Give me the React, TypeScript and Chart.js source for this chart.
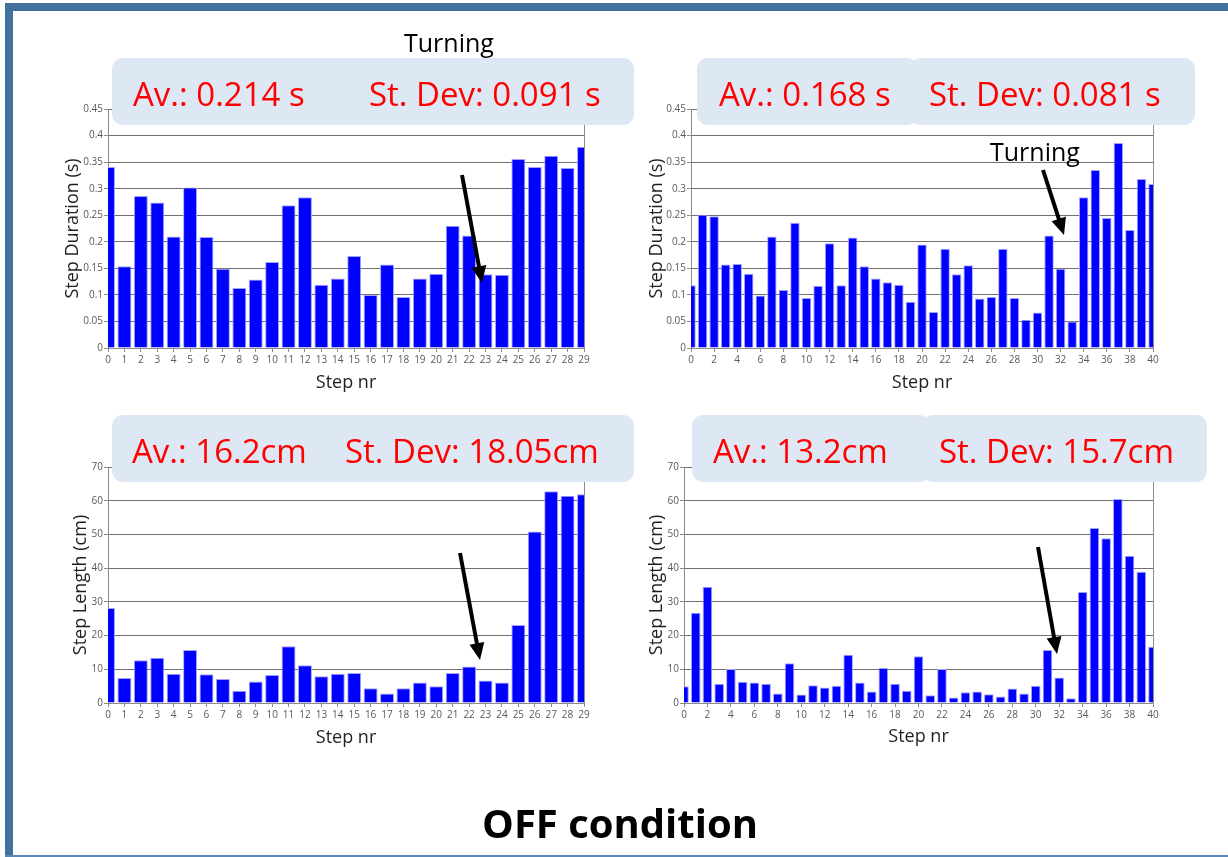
import { useEffect, useRef } from 'react';
import { Chart, registerables } from 'chart.js';

Chart.register(...registerables);
Chart.defaults.font.family = "'Open Sans', sans-serif";

// ---- categories / ticks ----
const stepsA = [0, 1, 2, 3, 4, 5, 6, 7, 8, 9, 10, 11, 12, 13, 14, 15, 16, 17, 18, 19, 20, 21, 22, 23, 24, 25, 26, 27, 28, 29];
const stepsB = [0, 1, 2, 3, 4, 5, 6, 7, 8, 9, 10, 11, 12, 13, 14, 15, 16, 17, 18, 19, 20, 21, 22, 23, 24, 25, 26, 27, 28, 29, 30, 31, 32, 33, 34, 35, 36, 37, 38, 39, 40];
const xTicksA = [0, 1, 2, 3, 4, 5, 6, 7, 8, 9, 10, 11, 12, 13, 14, 15, 16, 17, 18, 19, 20, 21, 22, 23, 24, 25, 26, 27, 28, 29];
const xTicksB = [0, 2, 4, 6, 8, 10, 12, 14, 16, 18, 20, 22, 24, 26, 28, 30, 32, 34, 36, 38, 40];
const durationTicks = [0, 0.05, 0.1, 0.15, 0.2, 0.25, 0.3, 0.35, 0.4, 0.45];
const lengthTicks = [0, 10, 20, 30, 40, 50, 60, 70];

// ---- series ----
const durationA = [0.341, 0.154, 0.286, 0.274, 0.21, 0.302, 0.209, 0.149, 0.113, 0.129, 0.162, 0.269, 0.284, 0.119, 0.131, 0.173, 0.1, 0.157, 0.096, 0.131, 0.14, 0.23, 0.212, 0.139, 0.138, 0.356, 0.341, 0.362, 0.339, 0.379];
const durationB = [0.118, 0.251, 0.248, 0.157, 0.158, 0.14, 0.099, 0.21, 0.109, 0.236, 0.094, 0.117, 0.197, 0.118, 0.208, 0.154, 0.131, 0.124, 0.119, 0.087, 0.195, 0.068, 0.187, 0.139, 0.156, 0.093, 0.096, 0.187, 0.094, 0.053, 0.067, 0.212, 0.149, 0.05, 0.284, 0.335, 0.245, 0.386, 0.222, 0.318, 0.309];
const lengthA = [28.2, 7.4, 12.7, 13.4, 8.7, 15.7, 8.5, 7.1, 3.6, 6.4, 8.3, 16.8, 11.2, 7.9, 8.7, 8.9, 4.4, 2.8, 4.4, 6.1, 5.0, 8.9, 10.8, 6.7, 6.1, 23.1, 50.9, 62.8, 61.5, 61.9];
const lengthB = [5.0, 26.8, 34.5, 5.7, 10.1, 6.3, 6.1, 5.7, 2.8, 11.8, 2.5, 5.3, 4.6, 5.1, 14.3, 6.1, 3.4, 10.4, 5.7, 3.6, 13.9, 2.3, 10.1, 1.6, 3.2, 3.4, 2.6, 1.9, 4.3, 2.8, 5.1, 15.7, 7.6, 1.4, 32.9, 51.9, 48.9, 60.5, 43.7, 38.9, 16.7];

type Spec = {
  steps: number[]; values: number[]; xTicks: number[]; yTicks: number[];
  xMax: number; yMax: number; yTitle: string; barPct: number;
  L: number; T: number; R: number; B: number; yTitleX: number; xTitleY: number;
};

const panels: Spec[] = [
  { steps: stepsA, values: durationA, xTicks: xTicksA, yTicks: durationTicks, xMax: 29, yMax: 0.45, yTitle: 'Step Duration (s)', barPct: 0.85, L: 108, T: 109, R: 584, B: 348, yTitleX: 73, xTitleY: 383 },
  { steps: stepsB, values: durationB, xTicks: xTicksB, yTicks: durationTicks, xMax: 40, yMax: 0.45, yTitle: 'Step Duration (s)', barPct: 0.82, L: 691, T: 109, R: 1153, B: 348, yTitleX: 657, xTitleY: 383 },
  { steps: stepsA, values: lengthA, xTicks: xTicksA, yTicks: lengthTicks, xMax: 29, yMax: 70, yTitle: 'Step Length (cm)', barPct: 0.85, L: 108, T: 467, R: 584, B: 703, yTitleX: 81, xTitleY: 738 },
  { steps: stepsB, values: lengthB, xTicks: xTicksB, yTicks: lengthTicks, xMax: 40, yMax: 70, yTitle: 'Step Length (cm)', barPct: 0.82, L: 684, T: 467, R: 1153, B: 703, yTitleX: 657, xTitleY: 737 },
];

const GRID = '#6f6f6f';
const AXIS = '#8c8c8c';

function BarPanel({ spec }: { spec: Spec }) {
  const ref = useRef<HTMLCanvasElement>(null);
  const padTop = 12, padRight = 22, padBottom = 2, titleSize = 18;
  const lh = titleSize * 1.2;
  const left = Math.round(spec.yTitleX - lh / 2);
  const top = spec.T - padTop;
  const yW = spec.L - left;
  const xH = Math.round(spec.xTitleY + lh / 2 - spec.B);
  const width = spec.R + padRight - left;
  const height = spec.B + xH + padBottom - top;

  useEffect(() => {
    const chart = new Chart(ref.current as HTMLCanvasElement, {
      type: 'bar',
      data: {
        datasets: [{
          data: spec.steps.map((s, i) => ({ x: s, y: spec.values[i] })),
          backgroundColor: '#0000ff',
          borderColor: '#a4a4ff',
          borderWidth: 1,
          barPercentage: spec.barPct,
          categoryPercentage: 1,
          clip: 0,
        } as any],
      },
      options: {
        responsive: false,
        animation: false,
        devicePixelRatio: 1,
        layout: { padding: { top: padTop, right: padRight, bottom: padBottom, left: 0 } },
        plugins: { legend: { display: false }, tooltip: { enabled: false } },
        scales: {
          x: {
            type: 'linear', min: 0, max: spec.xMax, offset: false,
            afterBuildTicks: (s: any) => { s.ticks = spec.xTicks.map((v) => ({ value: v })); },
            afterFit: (s: any) => { s.height = xH; },
            grid: {
              offset: false,
              color: (ctx: any) => (ctx.tick && ctx.tick.value === spec.xMax ? AXIS : 'rgba(0,0,0,0)'),
              tickColor: AXIS, tickLength: 4, lineWidth: 1,
            },
            border: { color: AXIS },
            ticks: { autoSkip: false, maxRotation: 0, padding: 2, color: '#595959', font: { size: 10 }, callback: (v: any) => String(v) },
            title: { display: true, text: 'Step nr', padding: 0, color: '#1f1f1f', font: { size: titleSize } },
          } as any,
          y: {
            type: 'linear', min: 0, max: spec.yMax,
            afterBuildTicks: (s: any) => { s.ticks = spec.yTicks.map((v) => ({ value: v })); },
            afterFit: (s: any) => { s.width = yW; },
            grid: { color: GRID, tickColor: AXIS, tickLength: 4, lineWidth: 1 },
            border: { color: AXIS },
            ticks: { padding: 1, color: '#595959', font: { size: 10 }, callback: (v: any) => String(v) },
            title: { display: true, text: spec.yTitle, padding: 0, color: '#1f1f1f', font: { size: titleSize } },
          } as any,
        },
      },
    });
    return () => chart.destroy();
  }, []);

  return (
    <canvas ref={ref} width={width} height={height}
      style={{ position: 'absolute', left, top, width, height }} />
  );
}

function Arrow({ x1, y1, x2, y2 }: { x1: number; y1: number; x2: number; y2: number }) {
  const dx = x2 - x1, dy = y2 - y1;
  const len = Math.hypot(dx, dy);
  const ux = dx / len, uy = dy / len;
  const hl = 17, hw = 7.5;
  const bx = x2 - ux * hl, by = y2 - uy * hl;
  const px = -uy, py = ux;
  const pts = `${x2},${y2} ${bx + px * hw},${by + py * hw} ${bx - px * hw},${by - py * hw}`;
  return (
    <g>
      <line x1={x1} y1={y1} x2={bx + ux * 2} y2={by + uy * 2} stroke="#000" strokeWidth={4} />
      <polygon points={pts} fill="#000" />
    </g>
  );
}

const BOX = '#dee8f4';
const RED = '#ff0000';

export default function App() {
  return (
    <div style={{ position: 'fixed', left: 0, top: 0, width: 1228, height: 857, background: '#fff', overflow: 'hidden' }}>
      {panels.map((p, i) => <BarPanel key={i} spec={p} />)}
      <svg width={1228} height={857} style={{ position: 'absolute', left: 0, top: 0, pointerEvents: 'none' }}
        fontFamily="'Open Sans', sans-serif">
        {/* slide frame */}
        <rect x={5} y={3} width={1223} height={8} fill="#41719c" />
        <rect x={5} y={3} width={8} height={854} fill="#41719c" />
        <rect x={5} y={855} width={1223} height={2} fill="#5b87b6" />

        {/* callout boxes */}
        <rect x={112} y={58} width={522} height={67} rx={11} fill={BOX} />
        <rect x={697} y={58} width={221} height={67} rx={11} fill={BOX} />
        <rect x={910} y={58} width={285} height={67} rx={11} fill={BOX} />
        <rect x={112} y={415} width={522} height={67} rx={11} fill={BOX} />
        <rect x={692} y={415} width={238} height={67} rx={11} fill={BOX} />
        <rect x={922} y={415} width={285} height={67} rx={11} fill={BOX} />

        <g fill={RED} fontSize={33}>
          <text x={133} y={106}>Av.: 0.214 s</text>
          <text x={369} y={106}>St. Dev: 0.091 s</text>
          <text x={719} y={106}>Av.: 0.168 s</text>
          <text x={929} y={106}>St. Dev: 0.081 s</text>
          <text x={132} y={463}>Av.: 16.2cm</text>
          <text x={345} y={463}>St. Dev: 18.05cm</text>
          <text x={713} y={463}>Av.: 13.2cm</text>
          <text x={939} y={463}>St. Dev: 15.7cm</text>
        </g>

        <g fill="#000" fontSize={25}>
          <text x={404} y={52}>Turning</text>
          <text x={990} y={161}>Turning</text>
        </g>

        <Arrow x1={462} y1={175} x2={482} y2={283} />
        <Arrow x1={1043} y1={170} x2={1064} y2={235} />
        <Arrow x1={460} y1={553} x2={480} y2={660} />
        <Arrow x1={1038} y1={547} x2={1057} y2={654} />

        <text x={620} y={838} textAnchor="middle" fontSize={40} fontWeight="bold" fill="#000">OFF condition</text>
      </svg>
    </div>
  );
}
